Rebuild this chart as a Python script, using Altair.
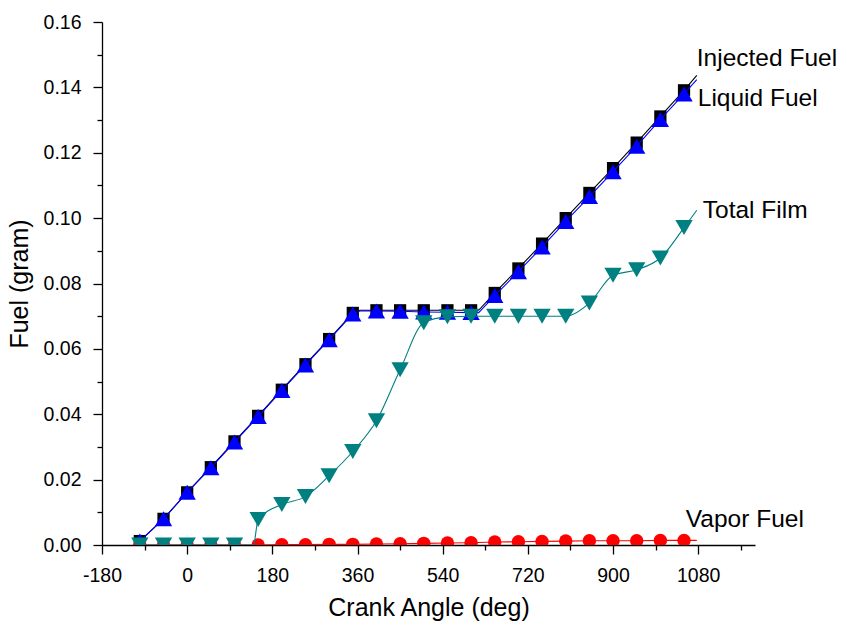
import altair as alt
import pandas as pd

# ---- data ----
angle = [-100, -50, 0, 50, 100, 150, 200, 250, 300, 350, 400, 450,
         500, 550, 600, 650, 700, 750, 800, 850, 900, 950, 1000, 1050]

injected = [0.0012, 0.0080, 0.0161, 0.0238, 0.0317, 0.0395, 0.0475, 0.0553,
            0.0630, 0.0710, 0.0718, 0.0718, 0.0718, 0.0718, 0.0718, 0.0771,
            0.0846, 0.0922, 0.1000, 0.1077, 0.1153, 0.1231, 0.1311, 0.1391]
liquid = [0.0012, 0.0080, 0.0161, 0.0236, 0.0315, 0.0393, 0.0473, 0.0551,
          0.0628, 0.0707, 0.0716, 0.0715, 0.0713, 0.0712, 0.0711, 0.0763,
          0.0836, 0.0912, 0.0990, 0.1066, 0.1142, 0.1220, 0.1302, 0.1380]
film = [0.0, 0.0, 0.0, 0.0, 0.0, 0.0078, 0.0124, 0.0148, 0.0212, 0.0286,
        0.0380, 0.0536, 0.0680, 0.0698, 0.0700, 0.0700, 0.0700, 0.0700,
        0.0700, 0.0740, 0.0825, 0.0842, 0.0878, 0.0971]
vapor = [0.0, 0.0, 0.0, 0.0, 0.0, 0.0, 0.0001, 0.0001, 0.0002, 0.0002,
         0.0003, 0.0004, 0.0005, 0.0006, 0.0007, 0.0009, 0.0010, 0.0011,
         0.0012, 0.0013, 0.0013, 0.0013, 0.0014, 0.0014]

# extra line vertices (curve start / corners / end)
injected_extra_x = [-108, 365, 616, 1077]
injected_extra_y = [0.0, 0.0718, 0.0718, 0.1437]
liquid_extra_x = [-108, 365, 616, 1077]
liquid_extra_y = [0.0, 0.0716, 0.0711, 0.1424]
film_extra_x = [-110, 140, 1077]
film_extra_y = [0.0, 0.0, 0.1024]
vapor_extra_x = [-110, 1077]
vapor_extra_y = [0.0, 0.0014]

series_names = ["Injected Fuel", "Liquid Fuel", "Total Film", "Vapor Fuel"]

x_ticks = [-180, -90, 0, 90, 180, 270, 360, 450, 540, 630, 720, 810, 900, 990, 1080, 1170]
y_ticks = [0.00, 0.01, 0.02, 0.03, 0.04, 0.05, 0.06, 0.07, 0.08,
           0.09, 0.10, 0.11, 0.12, 0.13, 0.14, 0.15, 0.16]

FONT = "Liberation Sans"
x_scale = alt.Scale(domain=[-180, 1200], nice=False, zero=False)
y_scale = alt.Scale(domain=[0, 0.16], nice=False, zero=False)

x_axis = alt.Axis(
    values=x_ticks, title="Crank Angle (deg)", grid=False,
    labelExpr="datum.value % 180 === 0 ? ('' + datum.value) : ''",
    tickSize={"condition": {"test": "datum.value % 180 === 0", "value": 9}, "value": 5},
    labelFlush=False, labelOverlap=False, labelPadding=12,
    labelFont=FONT, labelFontSize=19.5, labelColor="black",
    titleFont=FONT, titleFontSize=25, titleFontWeight="normal", titleColor="black",
    titlePadding=11, domainColor="black", tickColor="black", domainWidth=1.3, tickWidth=1.3,
)
y_axis = alt.Axis(
    values=y_ticks, title="Fuel (gram)", grid=False, format=".2f",
    labelExpr="round(datum.value * 100) % 2 === 0 ? datum.label : ''",
    tickSize={"condition": {"test": "round(datum.value * 100) % 2 === 0", "value": 9}, "value": 5},
    labelFlush=False, labelOverlap=False, labelPadding=12,
    labelFont=FONT, labelFontSize=19.5, labelColor="black",
    titleFont=FONT, titleFontSize=25, titleFontWeight="normal", titleColor="black",
    titlePadding=11, domainColor="black", tickColor="black", domainWidth=1.3, tickWidth=1.3,
)


def build(name, xs, ys, ex_x, ex_y, color, shape, size, interp="linear"):
    pts = pd.DataFrame({"angle": xs, "fuel": ys})
    line_df = pd.concat([pts, pd.DataFrame({"angle": ex_x, "fuel": ex_y})]).sort_values("angle")
    line = alt.Chart(line_df).mark_line(color=color, strokeWidth=1.1, clip=True,
                                        interpolate=interp).encode(
        x=alt.X("angle:Q", scale=x_scale, axis=x_axis),
        y=alt.Y("fuel:Q", scale=y_scale, axis=y_axis),
        order="angle:Q",
    )
    points = alt.Chart(pts).mark_point(filled=True, shape=shape, size=size, color=color,
                                       opacity=1, clip=True, strokeWidth=0).encode(
        x=alt.X("angle:Q", scale=x_scale, axis=x_axis),
        y=alt.Y("fuel:Q", scale=y_scale, axis=y_axis),
    )
    return line, points, line_df.iloc[-1]


inj_l, inj_p, inj_end = build(series_names[0], angle, injected, injected_extra_x, injected_extra_y,
                              "#000000", "square", 150)
liq_l, liq_p, liq_end = build(series_names[1], angle, liquid, liquid_extra_x, liquid_extra_y,
                              "#0000FF", "triangle-up", 300)
vap_l, vap_p, vap_end = build(series_names[3], angle, vapor, vapor_extra_x, vapor_extra_y,
                              "#FF0000", "circle", 180)
fil_l, fil_p, fil_end = build(series_names[2], angle, film, film_extra_x, film_extra_y,
                              "#008080", "triangle-down", 300, interp="monotone")


def label(name, end, dx, dy):
    df = pd.DataFrame({"angle": [end["angle"]], "fuel": [end["fuel"]], "name": [name]})
    return alt.Chart(df).mark_text(align="left", baseline="middle", dx=dx, dy=dy,
                                   font=FONT, fontSize=24.5, color="black").encode(
        x=alt.X("angle:Q", scale=x_scale, axis=x_axis),
        y=alt.Y("fuel:Q", scale=y_scale, axis=y_axis),
        text="name:N",
    )


labels = [
    label(series_names[0], inj_end, 0, -16),
    label(series_names[1], liq_end, 1, 19),
    label(series_names[2], fil_end, 6, 1),
    label(series_names[3], vap_end, -11, -20),
]

chart = alt.layer(inj_l, inj_p, liq_l, liq_p, vap_l, vap_p, fil_l, fil_p, *labels).properties(
    width=653, height=523,
    autosize=alt.AutoSizeParams(type="none"),
    padding={"left": 102, "top": 22, "right": 91, "bottom": 82},
    background="white",
).configure_view(stroke=None)

chart.save("out.html", embed_options={"renderer": "svg", "actions": False})
